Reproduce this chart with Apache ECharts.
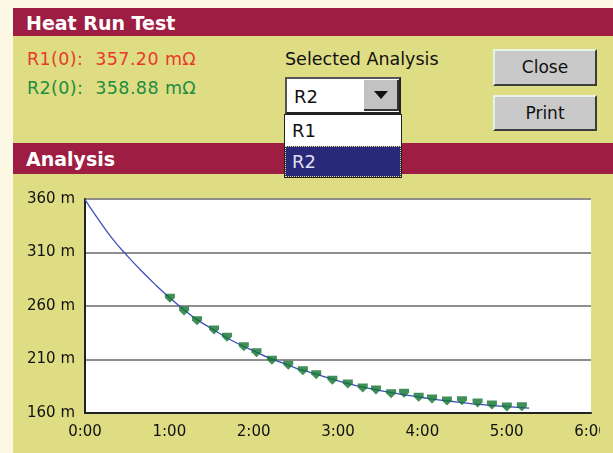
<!DOCTYPE html>
<html><head><meta charset="utf-8">
<script src="https://cdn.jsdelivr.net/npm/echarts/dist/echarts.min.js"></script>
<style>
html,body{margin:0;padding:0;}
body{width:613px;height:453px;background:#dedd84;position:relative;overflow:hidden;font-family:"DejaVu Sans",sans-serif;}
.abs{position:absolute;}
.cream{background:#fdf8e4;}
.bar{background:#9e1d42;}
.bartext{color:#fff;font-weight:bold;font-size:19px;white-space:pre;line-height:1;}
.t{white-space:pre;font-size:17.5px;line-height:1;}
.btn{background:#c9c9c9;border-top:2px solid #e6f4e6;border-left:2px solid #e6f4e6;border-right:2px solid #3c3c3c;border-bottom:2px solid #3c3c3c;box-sizing:border-box;text-align:center;font-size:17px;color:#111;}
</style></head>
<body>
<div class="abs cream" style="left:0;top:0;width:13px;height:453px"></div>
<div class="abs cream" style="left:0;top:0;width:613px;height:8px"></div>
<div class="abs bar" style="left:13px;top:8px;width:600px;height:28px"></div>
<div class="abs bartext" style="left:26px;top:14px;">Heat Run Test</div>
<div class="abs t" style="left:27px;top:51px;color:#e8392c;letter-spacing:0.4px;">R1(0):  357.20 mΩ</div>
<div class="abs t" style="left:27px;top:80px;color:#1f8c40;letter-spacing:0.4px;">R2(0):  358.88 mΩ</div>
<div class="abs t" style="left:285px;top:51px;color:#111;">Selected Analysis</div>
<div class="abs" style="left:285px;top:77px;width:116px;height:37px;background:#fff;border-top:2px solid #555;border-left:2px solid #555;border-right:2px solid #222;border-bottom:2px solid #222;box-sizing:border-box;"></div>
<div class="abs t" style="left:294px;top:88px;color:#111;font-size:18px;">R2</div>
<div class="abs" style="left:364px;top:80px;width:35px;height:31px;background:#c2c2c2;border-right:2px solid #333;border-bottom:2px solid #333;box-sizing:border-box;"></div>
<div class="abs" style="left:374px;top:91px;width:0;height:0;border-left:7px solid transparent;border-right:7px solid transparent;border-top:8px solid #111;"></div>
<div class="abs btn" style="left:493px;top:49px;width:104px;height:37px;line-height:33px;">Close</div>
<div class="abs btn" style="left:493px;top:95px;width:104px;height:36px;line-height:32px;">Print</div>
<div class="abs bar" style="left:13px;top:143px;width:600px;height:31px"></div>
<div class="abs bartext" style="left:26px;top:150px;">Analysis</div>
<div class="abs" style="left:284px;top:114px;width:118px;height:64px;background:#fff;border:1px solid #222;box-sizing:border-box;"></div>
<div class="abs" style="left:285px;top:146px;width:116px;height:31px;background:#29297a;box-sizing:border-box;border:1px dotted #e8e070;"></div>
<div class="abs t" style="left:292px;top:122px;color:#111;font-size:18px;">R1</div>
<div class="abs t" style="left:292px;top:153px;color:#e0e0f4;font-size:18px;">R2</div>
<div id="chart" class="abs" style="left:13px;top:174px;width:587px;height:279px;"></div>
<script>
// Time in minutes, resistance in mΩ
var lineTimes  = [0, 10, 20, 30, 40, 50, 60, 70, 80, 90, 100, 110, 120, 130, 140, 150, 160, 170, 180, 190, 200, 210, 220, 230, 240, 250, 260, 270, 280, 290, 300, 316];
var lineValues = [359.5, 340, 322, 307, 293, 280, 268, 257, 247, 239, 231, 224, 218, 212, 207, 202, 198, 194, 190, 186.5, 183.5, 181, 178.5, 176.5, 174.5, 172.5, 171, 169.5, 168, 167, 166, 164.5];
var markTimes  = [60.4, 70.5, 79.7, 91.8, 101, 113, 122, 133, 144.6, 155, 164.5, 176, 187, 197.6, 207, 217.8, 227, 237.4, 246.9, 257.5, 268.2, 279.3, 289.5, 300.1, 310.8];
var markValues = [267.2, 255.3, 246.3, 237.6, 230.7, 222, 216.4, 209.3, 204.6, 199.4, 195.8, 190.6, 187.1, 183.4, 181.5, 178, 178.4, 174.7, 173.1, 171.2, 171.5, 169.3, 167.5, 165.6, 165.9];
var xTickLabels = ['0:00', '1:00', '2:00', '3:00', '4:00', '5:00', '6:00'];
var yTicks = [160, 210, 260, 310, 360];

var chart = echarts.init(document.getElementById('chart'), null, {renderer: 'canvas'});
chart.setOption({
  animation: false,
  grid: {left: 72, top: 25, width: 506, height: 214, show: true, backgroundColor: '#ffffff', borderWidth: 0,
         containLabel: false, outerBoundsMode: 'none'},
  xAxis: {
    type: 'value', min: 0, max: 360, interval: 60,
    axisLine: {show: true, lineStyle: {color: '#222', width: 2}},
    axisTick: {show: false},
    splitLine: {show: false},
    axisLabel: {margin: 12, color: '#111', fontSize: 15, fontFamily: 'DejaVu Sans',
      formatter: function (v) { return xTickLabels[Math.round(v / 60)]; }}
  },
  yAxis: {
    type: 'value', min: yTicks[0], max: yTicks[yTicks.length - 1], interval: 50,
    axisLine: {show: true, lineStyle: {color: '#222', width: 2}},
    axisTick: {show: false},
    splitLine: {show: true, lineStyle: {color: '#8e8e8e', width: 2}},
    axisLabel: {margin: 10, color: '#111', fontSize: 15, fontFamily: 'DejaVu Sans',
      formatter: function (v) { return v + ' m'; }}
  },
  series: [
    {type: 'line', data: lineTimes.map(function (t, i) { return [t, lineValues[i]]; }),
     smooth: true, showSymbol: false, lineStyle: {color: '#3e4fbf', width: 1.3}, z: 2},
    {type: 'scatter', data: markTimes.map(function (t, i) { return [t, markValues[i]]; }),
     symbol: 'path://M0,0 L10,0 L10,4 L5,9 L0,4 Z', symbolSize: [10, 9],
     itemStyle: {color: '#10732f'}, z: 3}
  ]
});
</script>
</body></html>
